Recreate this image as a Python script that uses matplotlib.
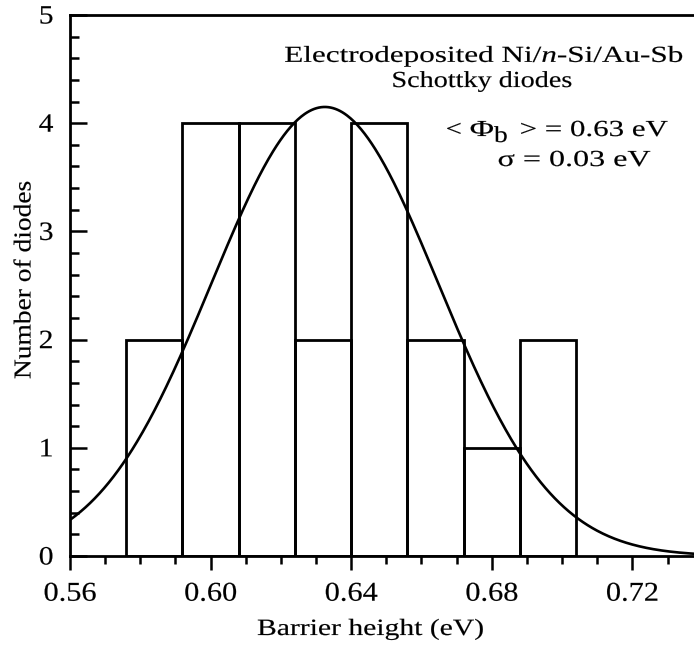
import numpy as np
import matplotlib
matplotlib.use('Agg')
import matplotlib.pyplot as plt
from matplotlib.patheffects import AbstractPathEffect
from matplotlib.transforms import Affine2D
from matplotlib.path import Path
from matplotlib.ticker import FixedLocator, MultipleLocator

# ---------------- data ----------------
bin_edges = [0.576, 0.592, 0.608, 0.624, 0.640, 0.656, 0.672, 0.688, 0.704]
counts = [2, 4, 4, 2, 4, 2, 1, 2]
fit_mean = 0.6325      # Gaussian fit centre (eV)
fit_sigma = 0.0323     # Gaussian fit width (eV)
fit_peak = 4.15        # Gaussian fit amplitude (diodes)
x_ticks = [0.56, 0.60, 0.64, 0.68, 0.72]
x_tick_labels = ['0.56', '0.60', '0.64', '0.68', '0.72']
y_ticks = [0, 1, 2, 3, 4, 5]
y_tick_labels = ['0', '1', '2', '3', '4', '5']

plt.rcParams['font.family'] = ['Liberation Serif', 'DejaVu Serif']
plt.rcParams['mathtext.fontset'] = 'custom'
plt.rcParams['mathtext.rm'] = 'Liberation Serif'
plt.rcParams['mathtext.it'] = 'Liberation Serif:italic'
plt.rcParams['mathtext.bf'] = 'Liberation Serif:bold'


class Stretch(AbstractPathEffect):
    """Widen glyphs horizontally (text stays a real text artist)."""
    def __init__(self, sx, anchor='center', stroke=0.12):
        super().__init__()
        self.sx = sx
        self.anchor = anchor
        self.stroke = stroke

    def draw_path(self, renderer, gc, tpath, affine, rgbFace=None):
        v = tpath.vertices
        codes = tpath.codes
        vv = v
        if codes is not None:
            m = codes != Path.CLOSEPOLY
            if m.any():
                vv = v[m]
        if len(vv):
            xmin, xmax = vv[:, 0].min(), vv[:, 0].max()
        else:
            xmin = xmax = 0.0
        if self.anchor == 'center':
            c = 0.5 * (xmin + xmax)
        elif self.anchor == 'right':
            c = xmax
        else:
            c = xmin
        t = Affine2D().translate(-c, 0).scale(self.sx, 1.0).translate(c, 0)
        gc0 = renderer.new_gc()
        gc0.copy_properties(gc)
        if rgbFace is not None and self.stroke > 0:
            gc0.set_foreground(rgbFace)
            gc0.set_linewidth(self.stroke)
        renderer.draw_path(gc0, tpath, t + affine, rgbFace)
        gc0.restore()


W, H = 694, 646
fig = plt.figure(figsize=(W / 100, H / 100), dpi=100)
ax_l, ax_r, ax_t, ax_b = 70, 694, 15, 556
ax = fig.add_axes([ax_l / W, 1 - ax_b / H, (ax_r - ax_l) / W, (ax_b - ax_t) / H])

lefts = bin_edges[:-1]
widths = np.diff(bin_edges)
ax.bar(lefts, counts, width=widths, align='edge', fill=False,
       edgecolor='black', linewidth=2.0, zorder=2)

xs = np.linspace(0.55, 0.75, 600)
ys = fit_peak * np.exp(-(xs - fit_mean) ** 2 / (2 * fit_sigma ** 2))
ax.plot(xs, ys, color='black', linewidth=1.9, zorder=3)

ax.set_xlim(0.56, 0.56 + (ax_r - ax_l) / 3515.0)
ax.set_ylim(0, 5)

for s in ['left', 'top', 'bottom']:
    ax.spines[s].set_linewidth(2.0)
ax.spines['right'].set_visible(False)

ax.xaxis.set_major_locator(FixedLocator(x_ticks))
ax.set_xticklabels(x_tick_labels)
ax.xaxis.set_minor_locator(MultipleLocator(0.01))
ax.yaxis.set_major_locator(FixedLocator(y_ticks))
ax.set_yticklabels(y_tick_labels)
ax.yaxis.set_minor_locator(MultipleLocator(0.2))

ax.tick_params(axis='x', which='major', direction='out', length=10, width=1.8,
               labelsize=19.5, pad=8.5, top=False)
ax.tick_params(axis='x', which='minor', direction='out', length=5.8, width=1.8, top=False)
ax.tick_params(axis='y', which='major', direction='in', length=12, width=1.8,
               labelsize=19, pad=12, right=False)
ax.tick_params(axis='y', which='minor', direction='in', length=6.5, width=1.8, right=False)

ax.set_xlabel('Barrier height (eV)', fontsize=16.8, va='baseline')
ax.xaxis.set_label_coords((371 - ax_l) / (ax_r - ax_l), (ax_b - 635) / (ax_b - ax_t))
ax.set_ylabel('Number of diodes', fontsize=17.5, va='center', ha='center')
ax.yaxis.set_label_coords((25 - ax_l) / (ax_r - ax_l), (ax_b - 280) / (ax_b - ax_t))
ax.xaxis.label.set_path_effects([Stretch(1.27)])
ax.yaxis.label.set_path_effects([Stretch(1.13)])


def ftext(x, y, s, size, sx, ha='center'):
    t = fig.text(x / W, 1 - y / H, s, fontsize=size, ha=ha, va='baseline')
    t.set_path_effects([Stretch(sx, anchor=ha)])
    return t

ftext(484, 62, 'Electrodeposited Ni/$n$-Si/Au-Sb', 16.5, 1.36)
ftext(482, 87, 'Schottky diodes', 16.5, 1.23)
# "< Phi_b > = 0.63 eV" built from pieces (subscript b is large and lowered)
ftext(446, 136, '<', 16.5, 1.25, ha='left')
ftext(470, 136, '\u03a6', 16.5, 1.45, ha='left')
ftext(494, 142, 'b', 16.5, 1.2, ha='left')
ftext(520, 136, '> = 0.63 eV', 16.5, 1.35, ha='left')
ftext(574, 166, '\u03c3 = 0.03 eV', 16.5, 1.4)

fig.canvas.draw()
for t in ax.xaxis.get_major_ticks():
    t.label1.set_path_effects([Stretch(1.12, 'center')])
for t in ax.yaxis.get_major_ticks():
    t.label1.set_path_effects([Stretch(1.12, 'right')])

fig.savefig('out.png', dpi=100)
